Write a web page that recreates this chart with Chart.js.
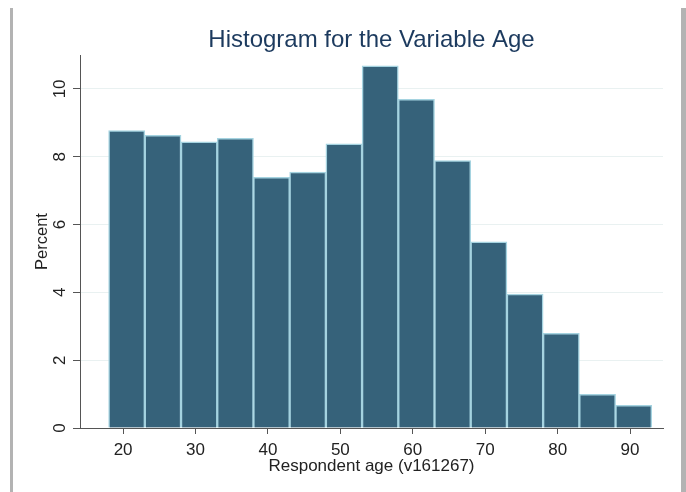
<!DOCTYPE html>
<html>
<head>
<meta charset="utf-8">
<script src="https://cdn.jsdelivr.net/npm/chart.js@4"></script>
<style>
  html, body { margin: 0; padding: 0; background: #ffffff; }
  #wrap { position: relative; width: 686px; height: 492px; overflow: hidden; }
  canvas { position: absolute; left: 0; top: 0; }
  .frameL { position: absolute; left: 10px; top: 8px; width: 3px; height: 484px; background: #b3b3b3; }
  .frameR { position: absolute; left: 681px; top: 8px; width: 5px; height: 484px; background: #b3b3b3; }
</style>
</head>
<body>
<div id="wrap">
  <canvas id="c" width="686" height="492"></canvas>
  <div class="frameL"></div>
  <div class="frameR"></div>
</div>
<script>
// ---- data ----
const binStarts = [18, 23, 28, 33, 38, 43, 48, 53, 58, 63, 68, 73, 78, 83, 88];
const binWidth = 5;
const percentValues = [8.77, 8.63, 8.44, 8.54, 7.39, 7.55, 8.38, 10.68, 9.69, 7.89, 5.49, 3.95, 2.79, 0.99, 0.67];
const xTickValues = [20, 30, 40, 50, 60, 70, 80, 90];
const yTickValues = [0, 2, 4, 6, 8, 10];
const chartTitle = 'Histogram for the Variable Age';
const xTitle = 'Respondent age (v161267)';
const yTitle = 'Percent';

const points = binStarts.map((s, i) => ({ x: s + binWidth / 2, y: percentValues[i] }));

const FONT = "'Liberation Sans', Arial, sans-serif";

const overlay = {
  id: 'overlay',
  afterDraw(chart) {
    const { ctx, chartArea, scales } = chart;
    ctx.save();
    // main title
    ctx.fillStyle = '#1c3a5e';
    ctx.font = '24px ' + FONT;
    ctx.textAlign = 'center';
    ctx.textBaseline = 'alphabetic';
    ctx.fillText(chartTitle, (chartArea.left + chartArea.right) / 2, 47);
    // rotated y tick labels
    ctx.fillStyle = '#222222';
    ctx.font = '17px ' + FONT;
    ctx.textAlign = 'center';
    ctx.textBaseline = 'middle';
    const ys = scales.y;
    ys.ticks.forEach(t => {
      const py = ys.getPixelForValue(t.value);
      ctx.save();
      ctx.translate(60, py);
      ctx.rotate(-Math.PI / 2);
      ctx.fillText(String(t.value), 0, 0);
      ctx.restore();
    });
    ctx.restore();
  }
};

const bg = {
  id: 'bg',
  beforeDraw(chart) {
    const { ctx } = chart;
    ctx.save();
    ctx.fillStyle = '#ffffff';
    ctx.fillRect(0, 0, chart.width, chart.height);
    ctx.restore();
  }
};

new Chart(document.getElementById('c'), {
  type: 'bar',
  data: {
    datasets: [{
      data: points,
      backgroundColor: '#36627a',
      borderColor: '#a5d3e0',
      borderWidth: 1.5,
      barPercentage: 1.0,
      categoryPercentage: 1.0,
      grouped: false
    }]
  },
  options: {
    responsive: false,
    animation: false,
    events: [],
    layout: { padding: { left: 0, right: 23, top: 55, bottom: 0 } },
    plugins: {
      legend: { display: false },
      title: { display: false },
      tooltip: { enabled: false }
    },
    scales: {
      x: {
        type: 'linear',
        offset: false,
        min: 14.05,
        max: 94.55,
        afterBuildTicks: (s) => { s.ticks = xTickValues.map(v => ({ value: v })); },
        afterFit: (s) => { s.height = 64; },
        grid: {
          display: true,
          drawOnChartArea: false,
          drawTicks: true,
          tickLength: 6,
          tickColor: '#555555',
          color: 'rgba(0,0,0,0)',
          offset: false
        },
        border: { display: true, color: '#555555', width: 1 },
        ticks: {
          color: '#222222',
          font: { family: FONT, size: 17 },
          padding: 6,
          maxRotation: 0,
          minRotation: 0,
          autoSkip: false
        },
        title: {
          display: true,
          text: xTitle,
          color: '#222222',
          font: { family: FONT, size: 17 },
          padding: { top: 0, bottom: 15 }
        }
      },
      y: {
        type: 'linear',
        min: 0,
        max: 11,
        afterBuildTicks: (s) => { s.ticks = yTickValues.map(v => ({ value: v })); },
        afterFit: (s) => { s.width = 80; },
        grid: {
          display: true,
          drawOnChartArea: true,
          drawTicks: true,
          tickLength: 7,
          tickColor: '#555555',
          color: '#e9f1f1',
          lineWidth: 1
        },
        border: { display: true, color: '#555555', width: 1 },
        ticks: { display: false },
        title: {
          display: true,
          text: yTitle,
          color: '#222222',
          font: { family: FONT, size: 16.5 },
          padding: { top: 33, bottom: 0 }
        }
      }
    }
  },
  plugins: [bg, overlay]
});
</script>
</body>
</html>
